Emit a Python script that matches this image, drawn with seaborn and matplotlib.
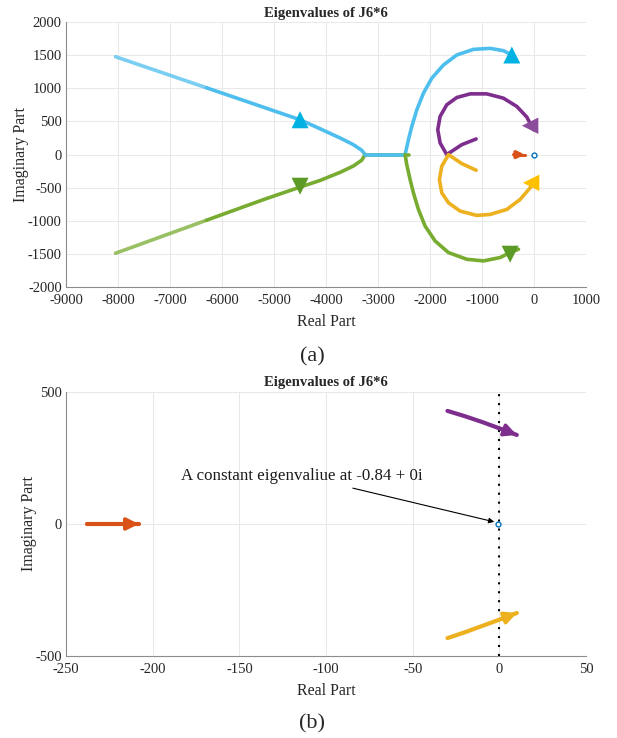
import numpy as np
import pandas as pd
import matplotlib
matplotlib.use("Agg")
import matplotlib.pyplot as plt
from matplotlib.ticker import MultipleLocator
import seaborn as sns

# ---------------- data ----------------
# Panel (a): full eigenvalue loci
cyan_far_re = [-8048, -6300]
cyan_far_im = [1478, 1009]
cyan_near_re = [-6300, -5206, -4500, -4115, -3731, -3475, -3314, -3250]
cyan_near_im = [1009, 716, 526, 390, 251, 150, 65, 0]
cyan_axis_re = [-3250, -2481]
cyan_axis_im = [0, 0]
cyan_arc_re = [-2481, -2417, -2352, -2256, -2128, -1968, -1744, -1487, -1167,
               -846, -590, -429]
cyan_arc_im = [0, 225, 425, 676, 928, 1153, 1353, 1504, 1589, 1604, 1569, 1504]

green_far_re = [-8048, -6300]
green_far_im = [-1489, -991]
green_near_re = [-6300, -5206, -4500, -4115, -3731, -3475, -3314, -3250]
green_near_im = [-991, -680, -490, -390, -268, -172, -84, 0]
green_axis_re = [-3250, -2404]
green_axis_im = [0, 0]
green_arc_re = [-2481, -2449, -2385, -2321, -2225, -2096, -1904, -1647, -1295,
                -974, -654, -462, -301]
green_arc_im = [0, -151, -376, -577, -828, -1079, -1304, -1479, -1580, -1605,
                -1554, -1479, -1429]

purple_re = [-1115, -1391, -1680, -1808, -1853, -1808, -1680, -1487, -1231,
             -910, -590, -333, -141, -13]
purple_im = [236, 150, 0, 176, 376, 576, 752, 862, 917, 917, 852, 727, 567, 376]
yellow_re = [-1115, -1391, -1647, -1776, -1821, -1776, -1647, -1423, -1103,
             -846, -526, -269, -77, 19]
yellow_im = [-236, -136, 0, -176, -376, -577, -727, -853, -918, -903, -828,
             -677, -501, -376]
orange_a_re = [-390, -180]
orange_a_im = [0, 0]

# direction markers
cyan_mark_re = [-4500, -429]
cyan_mark_im = [526, 1504]
green_mark_re = [-4500, -462]
green_mark_im = [-477, -1504]
purple_mark_re = [-77]
purple_mark_im = [436]
yellow_mark_re = [-58]
yellow_mark_im = [-426]

# Panel (b): zoom near the imaginary axis
purple_b_re = [-30, -20, -10, 0, 10]
purple_b_im = [428, 408, 386, 362, 337]
yellow_b_re = [-30, -20, -10, 0, 10]
yellow_b_im = [-432, -410, -386, -362, -337]
orange_b_re = [-238, -208]
orange_b_im = [0, 0]
const_re = [-0.84]
const_im = [0]
annot_text = "A constant eigenvaliue at -0.84 + 0i"

title = "Eigenvalues of J6*6"

# ---------------- style ----------------
sns.set_theme(style="white")
plt.rcParams["font.family"] = ["Liberation Serif", "DejaVu Serif"]
plt.rcParams["axes.unicode_minus"] = False

C_CYAN = "#4DBEEE"
C_CYAN_M = "#00B2E2"
C_GREEN = "#77AC30"
C_GREEN_M = "#5C9A28"
C_PURPLE = "#7E2F8E"
C_PURPLE_M = "#8C4C9C"
C_YELLOW = "#EDB120"
C_YELLOW_M = "#FFC000"
C_ORANGE = "#D95319"
C_BLUE = "#0072BD"

LW = 2.6

fig = plt.figure(figsize=(6.17, 7.38), dpi=100)
ax1 = fig.add_axes([0.107, 0.611, 0.843, 0.359])
ax2 = fig.add_axes([0.107, 0.111, 0.843, 0.358])


def line(ax, xs, ys, color, lw=LW, alpha=1.0, ls="-", z=2):
    df = pd.DataFrame({"re": xs, "im": ys})
    sns.lineplot(data=df, x="re", y="im", sort=False, estimator=None, ax=ax,
                 color=color, lw=lw, alpha=alpha, linestyle=ls,
                 solid_capstyle="round", solid_joinstyle="round", zorder=z)


def head(ax, xs, ys, color, scale=16):
    ax.annotate("", xy=(xs[-1], ys[-1]), xytext=(xs[-2], ys[-2]),
                arrowprops=dict(arrowstyle="-|>", color=color, lw=LW,
                                mutation_scale=scale, shrinkA=0, shrinkB=0))


def style_axes(ax):
    ax.grid(True, color="#E8E8E8", lw=0.7)
    ax.set_axisbelow(True)
    for s in ["top", "right"]:
        ax.spines[s].set_visible(False)
    for s in ["left", "bottom"]:
        ax.spines[s].set_color("#8C8C8C")
        ax.spines[s].set_linewidth(0.8)
    ax.tick_params(axis="both", direction="in", length=4, width=0.6,
                   color="#8C8C8C", labelsize=10.5, labelcolor="#262626")
    ax.tick_params(axis="x", pad=5)
    ax.tick_params(axis="y", pad=3)
    ax.set_xlabel("Real Part", fontsize=11.5, color="#262626", labelpad=5)
    ax.set_ylabel("Imaginary Part", fontsize=11.5, color="#262626",
                  labelpad=-1)
    ax.set_title(title, fontsize=10.5, fontweight="bold", pad=4)


# ---------- panel (a) ----------
line(ax1, cyan_far_re, cyan_far_im, C_CYAN, alpha=0.75)
line(ax1, cyan_near_re, cyan_near_im, C_CYAN)
line(ax1, green_far_re, green_far_im, C_GREEN, alpha=0.75)
line(ax1, green_near_re, green_near_im, C_GREEN)
line(ax1, green_axis_re, green_axis_im, C_GREEN)
line(ax1, cyan_axis_re, cyan_axis_im, C_CYAN)
line(ax1, cyan_arc_re, cyan_arc_im, C_CYAN)
line(ax1, green_arc_re, green_arc_im, C_GREEN)
line(ax1, purple_re, purple_im, C_PURPLE)
line(ax1, yellow_re, yellow_im, C_YELLOW)
line(ax1, orange_a_re, orange_a_im, C_ORANGE, lw=2.2)
head(ax1, orange_a_re, orange_a_im, C_ORANGE, scale=10)
sns.scatterplot(x=cyan_mark_re, y=cyan_mark_im, marker="^", s=150,
                color=C_CYAN_M, edgecolor="none", ax=ax1, zorder=5)
sns.scatterplot(x=green_mark_re, y=green_mark_im, marker="v", s=150,
                color=C_GREEN_M, edgecolor="none", ax=ax1, zorder=5)
sns.scatterplot(x=purple_mark_re, y=purple_mark_im, marker="<", s=140,
                color=C_PURPLE_M, edgecolor="none", ax=ax1, zorder=5)
sns.scatterplot(x=yellow_mark_re, y=yellow_mark_im, marker="<", s=140,
                color=C_YELLOW_M, edgecolor="none", ax=ax1, zorder=5)
ax1.plot(const_re, const_im, "o", ms=3.5, mfc="white", mec=C_BLUE, mew=1.0)

ax1.set_xlim(-9000, 1000)
ax1.set_ylim(-2000, 2000)
ax1.xaxis.set_major_locator(MultipleLocator(1000))
ax1.yaxis.set_major_locator(MultipleLocator(500))
style_axes(ax1)

# ---------- panel (b) ----------
ax2.axvline(0, color="black", ls=(0, (1, 3.3)), lw=1.5, zorder=1)
line(ax2, purple_b_re, purple_b_im, C_PURPLE, lw=3)
head(ax2, purple_b_re, purple_b_im, C_PURPLE, scale=18)
line(ax2, yellow_b_re, yellow_b_im, C_YELLOW, lw=3)
head(ax2, yellow_b_re, yellow_b_im, C_YELLOW, scale=18)
line(ax2, orange_b_re, orange_b_im, C_ORANGE, lw=3)
head(ax2, orange_b_re, orange_b_im, C_ORANGE, scale=18)
ax2.plot(const_re, const_im, "o", ms=3.5, mfc="white", mec=C_BLUE, mew=1.0,
         zorder=6)
ax2.annotate(annot_text, xy=(-3, 8), xytext=(-44.5, 182),
             ha="right", va="center", fontsize=12.2, color="#1a1a1a",
             arrowprops=dict(arrowstyle="-|>", color="black", lw=0.8,
                             mutation_scale=8, shrinkA=3, shrinkB=0))

ax2.set_xlim(-250, 50)
ax2.set_ylim(-500, 500)
ax2.xaxis.set_major_locator(MultipleLocator(50))
ax2.yaxis.set_major_locator(MultipleLocator(500))
style_axes(ax2)

fig.text(0.506, 1 - 357 / 738, "(a)", ha="center", va="center", fontsize=16)
fig.text(0.506, 1 - 724 / 738, "(b)", ha="center", va="center", fontsize=16)

fig.savefig("out.png", dpi=100)
